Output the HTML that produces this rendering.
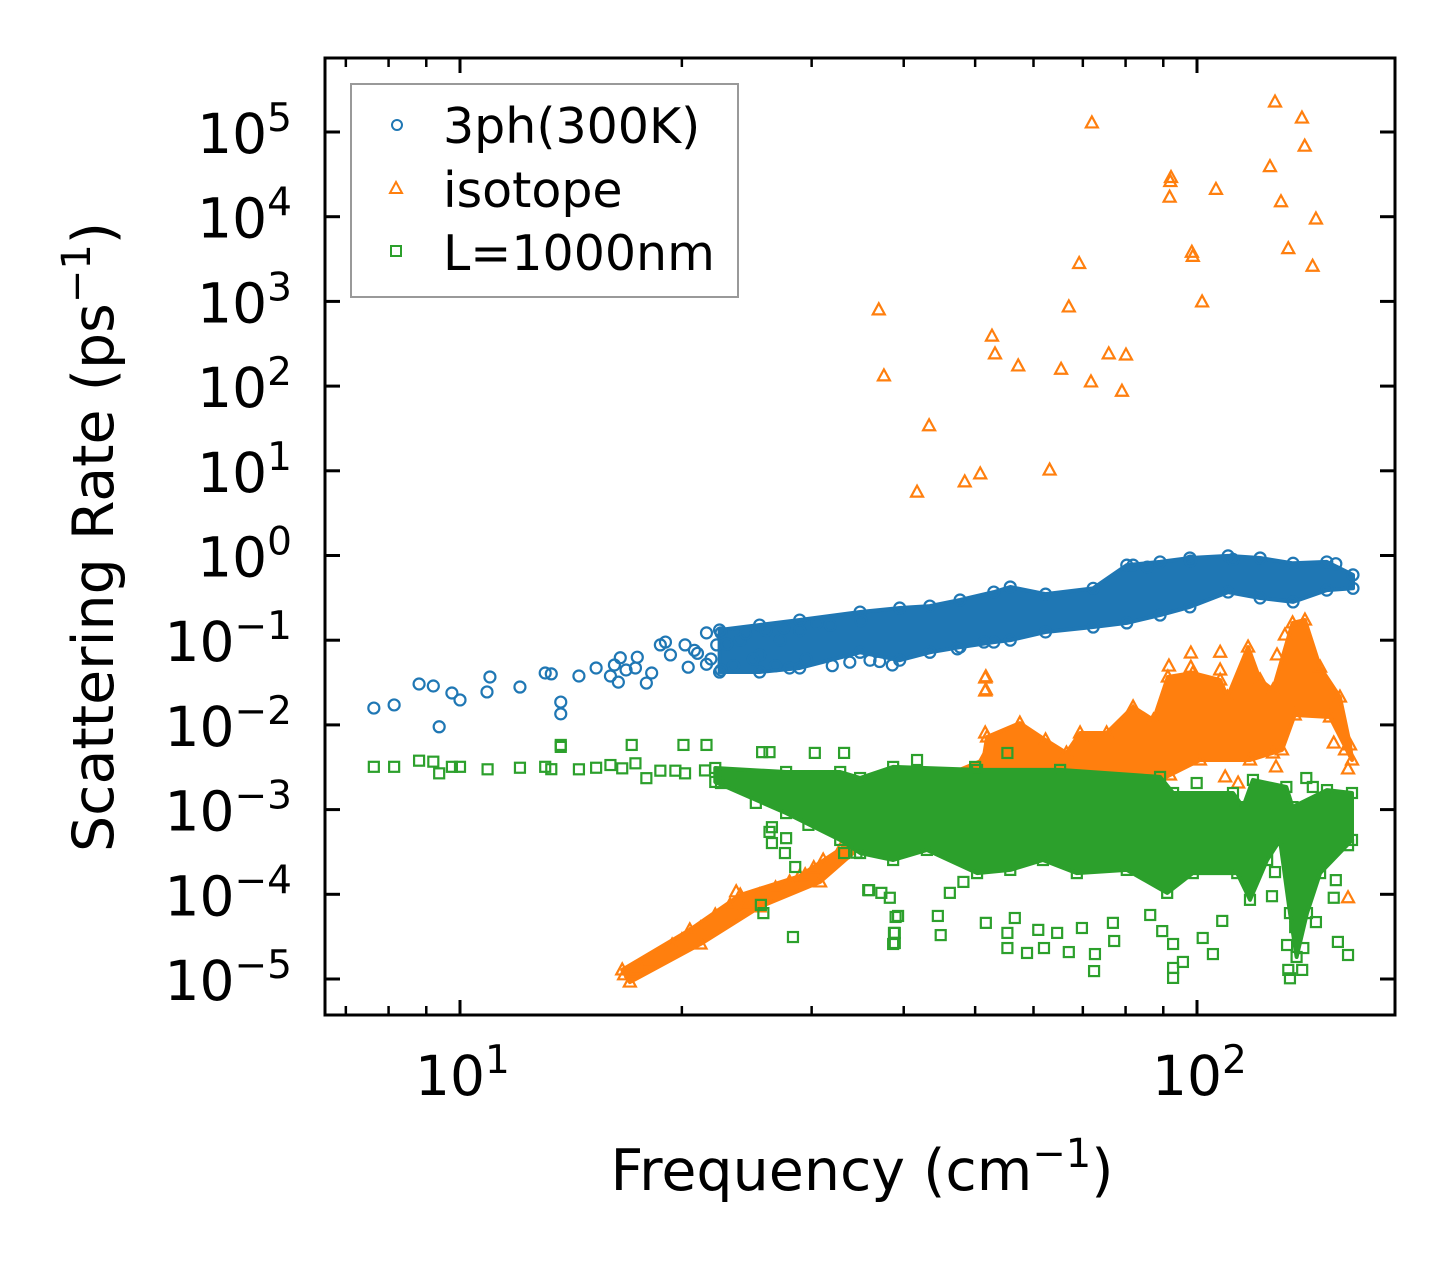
<!DOCTYPE html>
<html><head><meta charset="utf-8"><style>
html,body{margin:0;padding:0;background:#fff;}
svg{display:block;font-family:"DejaVu Sans","Liberation Sans",sans-serif;}
</style></head><body>
<svg id="chart" width="1455" height="1265" viewBox="0 0 1455 1265" xmlns="http://www.w3.org/2000/svg">
<rect x="0" y="0" width="1455" height="1265" fill="#fff"/>
<g id="plot"></g>
<g id="axes"></g>
<g id="legend">
  <rect x="351" y="84" width="387" height="213" fill="#fff" fill-opacity="0.8" stroke="#999" stroke-width="2"/>
  <circle cx="397" cy="125" r="5" fill="none" stroke="#1f77b4" stroke-width="2"/>
  <polygon points="396,182 402,193 390,193" fill="none" stroke="#ff7f0e" stroke-width="2"/>
  <rect x="391" y="246" width="10" height="10" fill="none" stroke="#2ca02c" stroke-width="2"/>
  <text x="443" y="143" font-size="49">3ph(300K)</text>
  <text x="443" y="207" font-size="49">isotope</text>
  <text x="443" y="270" font-size="49">L=1000nm</text>
</g>
<text x="862" y="1190" font-size="57" text-anchor="middle">Frequency (cm<tspan font-size="40" dy="-23">−1</tspan><tspan dy="23">)</tspan></text>
<text transform="translate(113,537) rotate(-90)" font-size="57" text-anchor="middle">Scattering Rate (ps<tspan font-size="40" dy="-23">−1</tspan><tspan dy="23">)</tspan></text>
</svg>
<script>
// ---- data ----
const freq3ph=[7.64,8.14,8.8,9.2,9.37,9.75,10,10.88,10.98,12.06,13.05,13.3,13.7,13.7,14.5,15.3,16.0,16.2,16.4,16.5,16.8,17.3,17.4,17.9,18.2,18.7,19.0,19.3,20.2,20.4,20.8,21.6,21.6,22.6,22.6,22.3,24.0,25.5,27.2,28.0,28.9,31.8,33.8,36.0,37.1,38.6,47.3,51.4,81.9,85.6,98,111.9,154.3,
 21.0,21.9,23.0,23.5,24.4,25.0,26.0,26.8,27.5,29.5,30.5,32.0,35.0];
const rate3ph=[0.0158,0.0172,0.0304,0.0288,0.0095,0.0238,0.0197,0.0245,0.0368,0.028,0.041,0.040,0.0186,0.0135,0.0378,0.047,0.0378,0.051,0.032,0.062,0.0445,0.047,0.063,0.0312,0.041,0.088,0.095,0.067,0.088,0.048,0.076,0.122,0.052,0.122,0.0445,0.088,0.1,0.067,0.1,0.047,0.13,0.15,0.055,0.058,0.056,0.051,0.079,0.095,0.77,0.73,0.86,0.9,0.8,
 0.07,0.06,0.09,0.05,0.12,0.06,0.13,0.05,0.14,0.06,0.16,0.05,0.17];
const cloud3phFreq=[22.5,25.5,28.9,34.9,39.5,43.4,47.7,53.0,55.8,62.3,72.3,80.3,89.1,97.8,110.2,121.8,135,150,162.8,162.8,150,135,121.8,110.2,97.8,89.1,80.3,72.3,62.3,55.8,53.0,47.7,43.4,39.5,34.9,28.9,25.5,22.5];
const cloud3phRate=[0.132,0.151,0.173,0.215,0.24,0.253,0.298,0.37,0.425,0.35,0.41,0.77,0.84,0.935,0.99,0.935,0.81,0.84,0.59,0.41,0.39,0.283,0.315,0.37,0.247,0.198,0.16,0.143,0.125,0.1,0.095,0.083,0.072,0.058,0.072,0.047,0.0421,0.0421];

const freqIso=[72.0,127.6,138.8,140,145,125.6,130,133,143.5,92.2,92,91.8,106.1,98.4,98.7,101.6,69.2,67,75.9,80.1,71.8,79.1,65.4,57.2,52.7,53.2,37.0,37.6,43.3,41.7,48.4,50.8,63.1,51.7,51.7,
 51.6,51.6,51.6,81.9,91.6,98.1,98.1,107.5,107.5,128.4,131.6,158.8,160.3,160.3,109.2,113.7,126.8,128,153.3,69.8,
 16.7,17.1,17.55,18.2,18.7,19.4,20.0,20.5,21.2,22.2,23.25,23.7,24.4,25.5,26.8,28.0,29.4,30.2,31.1,32.8,34.3,34.9,37.1];
const rateIso=[1.28e5,2.26e5,1.46e5,6.8e4,9.4e3,3.9e4,1.5e4,4.2e3,2.6e3,2.9e4,2.6e4,1.7e4,2.1e4,3.8e3,3.4e3,985,2.8e3,860,240,233,112,87,158,173,389,240,795,132,34,5.6,7.4,9.2,10.2,0.037,0.026,
 0.0358,0.0251,0.00803,0.0142,0.0495,0.0706,0.048,0.072,0.0445,0.067,0.115,0.00506,0.00302,9.1e-5,0.00243,0.00206,0.00466,0.00319,0.0061,0.007,
 1.12e-5,1.2e-5,1.38e-5,1.67e-5,1.92e-5,2.52e-5,2.89e-5,3.3e-5,4.0e-5,5.7e-5,7.5e-5,1.07e-4,7.5e-5,9.8e-5,1.19e-4,1.4e-4,1.7e-4,2.06e-4,2.54e-4,3.34e-4,4.1e-4,6.0e-4,7.0e-4];
const cloudIsoFreq=[16.6,20.5,24.0,28.9,33.8,36.6,51.3,51.9,57.5,62.3,66.5,69.4,75.4,81.9,87.3,91.3,98.7,107.5,110.0,117.3,121.8,126.8,134.8,140.1,146.9,156.3,161.3,162.3,151.5,135.7,130.4,118.0,100.9,91.9,83.7,54.0,36.0,30.8,25.5,21.2,17.0];
const cloudIsoRate=[1.28e-5,3.8e-5,9.8e-5,1.64e-4,4.03e-4,1.13e-3,3.85e-3,7.2e-3,1.05e-2,6.64e-3,4.66e-3,8.03e-3,8.03e-3,1.63e-2,1.14e-2,3.68e-2,4.1e-2,3.39e-2,2.13e-2,8.3e-2,3.39e-2,2.58e-2,0.16,0.173,4.8e-2,2.13e-2,5.8e-3,3.85e-3,1.24e-2,1.31e-2,5.06e-3,3.85e-3,3.85e-3,2.56e-3,1.70e-3,1.70e-3,4.6e-4,1.4e-4,7.1e-5,2.59e-5,9.2e-6];

const freqL=[7.64,8.14,8.8,9.2,9.37,9.75,10,10.9,12.06,13.05,13.3,13.7,13.7,14.5,15.3,16.0,16.6,17.3,17.9,18.7,19.6,20.2,17.1,20.1,21.6,25.7,
 21.5,22.6,24.0,25.2,26.3,26.5,26.3,26.5,27.7,27.6,28.5,30.3,33.2,29.7,32.4,35.9,37.3,39.0,38.9,38.9,25.6,25.8,28.3,33.2,34.5,
 35.8,38.3,39.3,38.8,38.7,44.5,44.9,46.2,48.2,51.7,55.3,55.3,56.6,58.8,60.9,62.0,64.6,67.0,69.8,72.7,72.5,77.2,76.9,86.4,89.7,92.8,92.8,92.8,95.7,101.8,105.1,108.2,126.4,127.6,132.5,133,133.7,135.9,138.9,139.4,145,153.3,155.3,160.3,160.3,154.3,
 55.3,41.7,50.0,99.9,140.7,143.6];
const rateL=[3.2e-3,3.2e-3,3.78e-3,3.68e-3,2.68e-3,3.2e-3,3.2e-3,2.99e-3,3.12e-3,3.2e-3,3.0e-3,5.8e-3,5.5e-3,2.99e-3,3.12e-3,3.36e-3,3.07e-3,3.52e-3,2.35e-3,2.88e-3,2.88e-3,2.68e-3,5.8e-3,5.8e-3,5.8e-3,4.77e-3,
 2.9e-3,2.06e-3,2.56e-3,1.2e-3,4.77e-3,6.2e-4,5.45e-4,4.03e-4,4.6e-4,3.07e-4,2.1e-4,4.67e-3,4.67e-3,6.6e-4,6.2e-4,1.12e-4,1.04e-4,5.4e-5,3.5e-5,2.66e-5,7.5e-5,6.0e-5,3.13e-5,3.07e-4,3.1e-4,
 1.12e-4,9.1e-5,5.55e-5,3.5e-5,2.59e-5,5.55e-5,3.3e-5,1.04e-4,1.4e-4,4.6e-5,3.5e-5,2.32e-5,5.25e-5,2.03e-5,3.8e-5,2.32e-5,3.5e-5,2.08e-5,4.0e-5,1.97e-5,1.24e-5,2.81e-5,4.6e-5,5.7e-5,3.68e-5,2.59e-5,1.35e-5,1.03e-5,1.59e-5,3.05e-5,1.97e-5,4.85e-5,9.5e-5,1.83e-4,2.52e-5,1.28e-5,1.02e-5,4.1e-5,1.28e-5,2.32e-5,4.7e-5,9.1e-5,2.74e-5,1.92e-5,3.8e-4,1.47e-4,
 4.66e-3,3.85e-3,3.19e-3,2.06e-3,2.36e-3,1.85e-3];
const cloudLFreq=[22.2,27.7,32.8,34.9,38.7,50.3,65.2,89.1,92.8,111.9,115.5,119.1,132.2,134.8,150.1,162.3,162.3,146.9,141.0,136.5,133.7,129.6,124.5,118.0,113.4,98.7,91.1,80.3,68.7,61.8,55.8,50.3,43.0,38.7,34.9,32.8,27.7,22.2];
const cloudLRate=[3.1e-3,2.78e-3,2.78e-3,2.36e-3,3.19e-3,2.94e-3,2.94e-3,2.43e-3,1.57e-3,1.57e-3,1.07e-3,2.24e-3,1.85e-3,1.07e-3,1.70e-3,1.57e-3,4.38e-4,1.78e-4,6.0e-5,1.82e-5,6.0e-5,4.38e-4,2.54e-4,8.6e-5,1.78e-4,1.78e-4,1.04e-4,1.94e-4,1.78e-4,2.54e-4,1.94e-4,1.78e-4,3.34e-4,2.54e-4,3.07e-4,4.38e-4,9.1e-4,2.12e-3];

const xMajorTicks=[10,100];
const xMajorLabels=["1","2"];
const xMinorTicks=[7,8,9,20,30,40,50,60,70,80,90];
const yTicks=[1e5,1e4,1e3,1e2,1e1,1,0.1,0.01,1e-3,1e-4,1e-5];
const yTickExps=["5","4","3","2","1","0","−1","−2","−3","−4","−5"];

// ---- scales ----
const L=325,R=1395,T=58,B=1015;
function X(f){return 460+(Math.log10(f)-1)*737;}
function Y(r){return 132+(5-Math.log10(r))*84.7;}
const NS="http://www.w3.org/2000/svg";
const plot=document.getElementById('plot');
const axes=document.getElementById('axes');
function mk(tag,attrs,parent){const e=document.createElementNS(NS,tag);for(const k in attrs)e.setAttribute(k,attrs[k]);parent.appendChild(e);return e;}

const clip=mk('clipPath',{id:'clip'},document.getElementById('chart'));
mk('rect',{x:L,y:T,width:R-L,height:B-T},clip);
plot.setAttribute('clip-path','url(#clip)');

function cloud(fs,rs,color,name){
  const pts=fs.map((f,i)=>X(f).toFixed(1)+','+Y(rs[i]).toFixed(1)).join(' ');
  const p=mk('polygon',{points:pts,fill:color,stroke:color,'stroke-width':4,'stroke-linejoin':'round'},plot);
  
  
}
function circles(fs,rs,color,name){
  const g=mk('g',{},plot);
  
  
  fs.forEach((f,i)=>{
    const c=mk('circle',{cx:X(f),cy:Y(rs[i]),r:5.5,fill:'none',stroke:color,'stroke-width':2.2},g);
    
    
  });
}
function triangles(fs,rs,color,name){
  const g=mk('g',{},plot);
  
  
  fs.forEach((f,i)=>{
    const x=X(f),y=Y(rs[i]);
    const t=mk('polygon',{points:`${x},${y-6.5} ${x+6},${y+4.5} ${x-6},${y+4.5}`,fill:'none',stroke:color,'stroke-width':2.2},g);
    
    
  });
}
function squares(fs,rs,color,name){
  const g=mk('g',{},plot);
  
  
  fs.forEach((f,i)=>{
    const s=mk('rect',{x:X(f)-5,y:Y(rs[i])-5,width:10,height:10,fill:'none',stroke:color,'stroke-width':2.2},g);
    
    
  });
}
cloud(cloud3phFreq,cloud3phRate,'#1f77b4','cloud-3ph');
circles(cloud3phFreq,cloud3phRate,'#1f77b4','cloud-3ph-edge-points');
circles(freq3ph,rate3ph,'#1f77b4','series-3ph-points');
cloud(cloudIsoFreq,cloudIsoRate,'#ff7f0e','cloud-isotope');
triangles(cloudIsoFreq,cloudIsoRate,'#ff7f0e','cloud-isotope-edge-points');
triangles(freqIso,rateIso,'#ff7f0e','series-isotope-points');
cloud(cloudLFreq,cloudLRate,'#2ca02c','cloud-boundary');
squares(cloudLFreq,cloudLRate,'#2ca02c','cloud-boundary-edge-points');
squares(freqL,rateL,'#2ca02c','series-boundary-points');

// ---- axes ----
const frame=mk('rect',{x:L,y:T,width:R-L,height:B-T,fill:'none',stroke:'#000','stroke-width':3},axes);


xMajorTicks.forEach((v,i)=>{
  const x=X(v);
  const t1=mk('line',{x1:x,x2:x,y1:B,y2:B-15,stroke:'#000','stroke-width':3},axes);
  
  
  const t2=mk('line',{x1:x,x2:x,y1:T,y2:T+15,stroke:'#000','stroke-width':3},axes);
  
  
  const tx=mk('text',{x:x-45,y:1095,'font-size':55},axes);
  
  
  tx.appendChild(document.createTextNode('10'));
  const sp=mk('tspan',{'font-size':39,dy:-22},tx);
  sp.textContent=xMajorLabels[i];
});
xMinorTicks.forEach(v=>{
  const x=X(v);
  const t1=mk('line',{x1:x,x2:x,y1:B,y2:B-9,stroke:'#000','stroke-width':2.5},axes);
  
  
  const t2=mk('line',{x1:x,x2:x,y1:T,y2:T+9,stroke:'#000','stroke-width':2.5},axes);
  
  
});
yTicks.forEach((v,i)=>{
  const y=Y(v);
  const t1=mk('line',{x1:L,x2:L+15,y1:y,y2:y,stroke:'#000','stroke-width':3},axes);
  
  
  const t2=mk('line',{x1:R,x2:R-15,y1:y,y2:y,stroke:'#000','stroke-width':3},axes);
  
  
  const tx=mk('text',{x:292,y:y+21,'font-size':55,'text-anchor':'end'},axes);
  
  
  tx.appendChild(document.createTextNode('10'));
  const sp=mk('tspan',{'font-size':39,dy:-22},tx);
  sp.textContent=yTickExps[i];
});
</script>
</body></html>
